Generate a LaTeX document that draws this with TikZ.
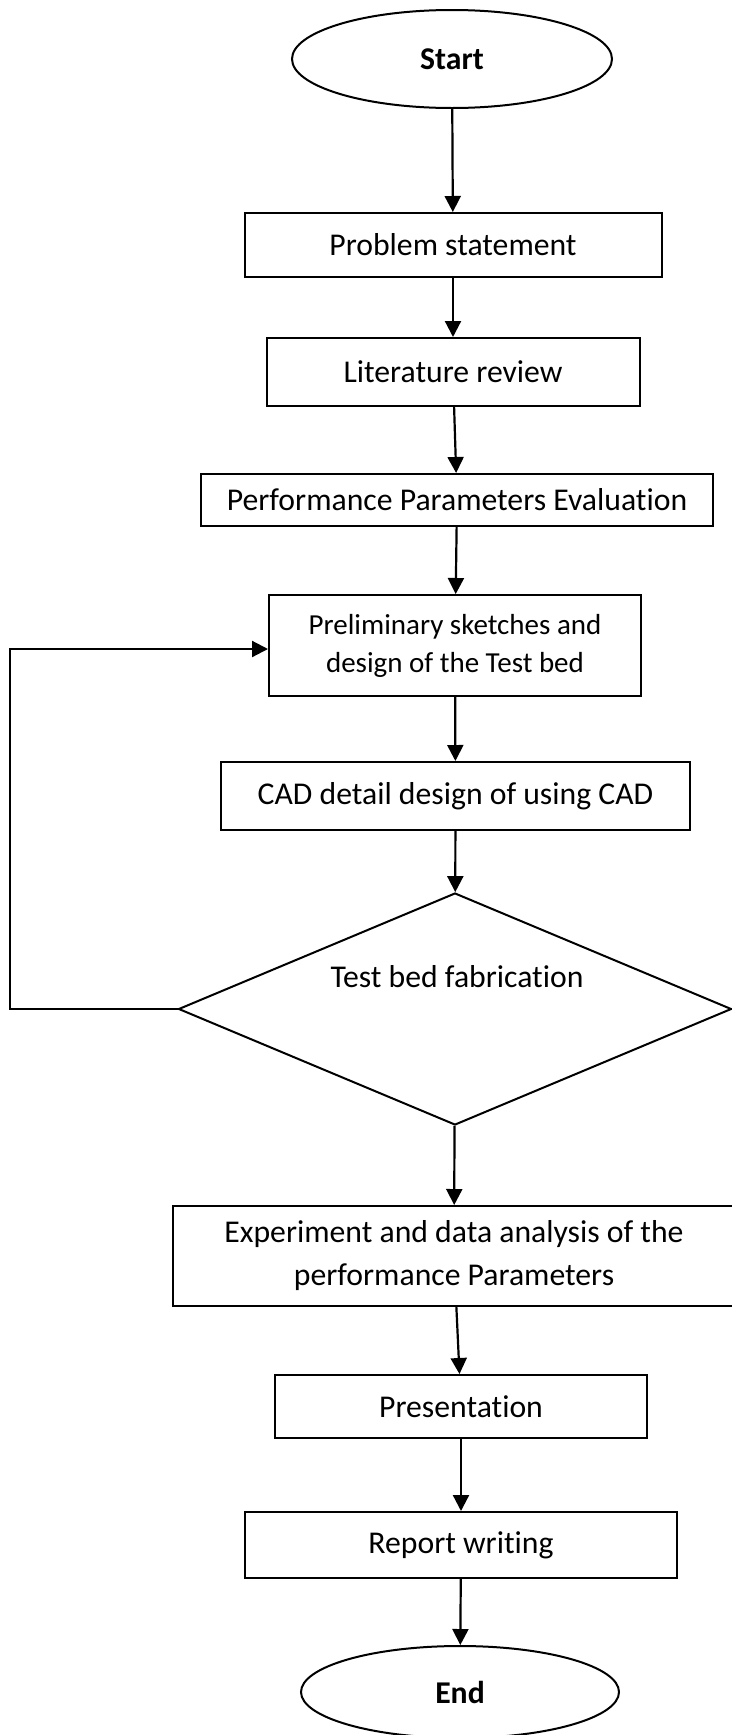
\documentclass[tikz,border=0pt]{standalone}
\usepackage{fontspec}
\setmainfont[Ligatures={NoCommon}]{Carlito}
\usetikzlibrary{arrows.meta,shapes.geometric}
\begin{document}
\begin{tikzpicture}[x=1pt,y=-1pt,
  box/.style={draw, line width=2pt, inner sep=0pt, align=center, font=\fontsize{31.7}{43}\selectfont},
  term/.style={draw, ellipse, line width=2pt, inner sep=0pt, font=\fontsize{31.7}{43}\selectfont\bfseries},
  decision/.style={draw, diamond, line width=2pt, inner sep=0pt},
  plain/.style={inner sep=0pt, font=\fontsize{31.7}{43}\selectfont},
  arr/.style={-{Triangle[length=16pt,width=16pt]}, line width=2.2pt}]
\useasboundingbox (0,0) rectangle (731,1735);
\node[term, minimum width=320pt, minimum height=98pt] (start) at (452,59) {Start};
\node[box, minimum width=417pt, minimum height=64pt] (ps) at (453,245) {Problem statement};
\node[box, minimum width=373pt, minimum height=68pt] (lr) at (453,372) {Literature review};
\node[box, minimum width=512pt, minimum height=52pt] (ppe) at (457,500) {Performance Parameters Evaluation};
\node[box, minimum width=372pt, minimum height=101pt, font=\fontsize{29}{38}\selectfont] (pre) at (455,645.5) {Preliminary sketches and\\design of the Test bed};
\node[box, minimum width=469pt, minimum height=68pt] (cad) at (455.5,796) {CAD detail design of using CAD};
\node[decision, minimum width=553pt, minimum height=232pt] (dia) at (455,1009) {};
\node[plain] (dialabel) at (457,977) {Test bed fabrication};
\node[box, minimum width=562pt, minimum height=100pt] (exp) at (454,1256) {Experiment and data analysis of the\\performance Parameters};
\node[box, minimum width=372pt, minimum height=63pt] (pres) at (461,1406.5) {Presentation};
\node[box, minimum width=432pt, minimum height=66pt] (rep) at (461,1545) {Report writing};
\node[term, minimum width=318pt, minimum height=92pt] (end) at (460,1692) {End};
\coordinate (fb) at (10,1009);
\draw[arr] (start) -- (ps);
\draw[arr] (ps) -- (lr);
\draw[arr] (lr) -- (ppe);
\draw[arr] (ppe) -- (pre);
\draw[arr] (pre) -- (cad);
\draw[arr] (cad) -- (dia);
\draw[arr] (dia) -- (exp);
\draw[arr] (exp) -- (pres);
\draw[arr] (pres) -- (rep);
\draw[arr] (rep) -- (end);
\draw[arr] (dia.west) -- (fb) |- ([yshift=-3.5pt]pre.west);
\end{tikzpicture}
\end{document}
